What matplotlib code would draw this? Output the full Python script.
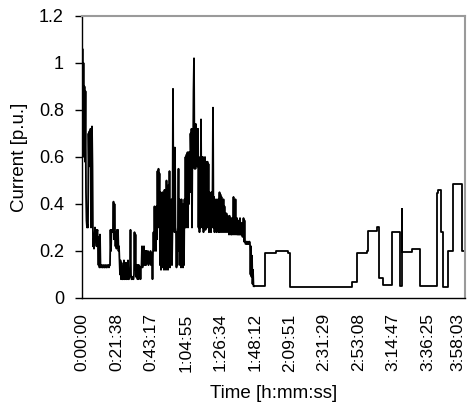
import matplotlib
matplotlib.use("Agg")
import matplotlib.pyplot as plt
import matplotlib.transforms as mtransforms
import numpy as np

plt.rcParams['font.family'] = ['Liberation Sans', 'DejaVu Sans']

# dense part of the record, one sample every ~18.8 s
sample_period = 18.79
dense_current = [
    0.58, 1.06, 0.60, 1.00, 0.62, 0.90, 0.58, 0.88, 0.45, 0.33,
    0.30, 0.31, 0.30, 0.70, 0.56, 0.71, 0.57, 0.72, 0.30, 0.60,
    0.73, 0.56, 0.22, 0.25, 0.21, 0.26, 0.30, 0.27, 0.29, 0.22,
    0.28, 0.29, 0.23, 0.14, 0.26, 0.13, 0.27, 0.14, 0.13, 0.14,
    0.14, 0.13, 0.13, 0.14, 0.14, 0.13, 0.13, 0.14, 0.14, 0.13,
    0.13, 0.14, 0.14, 0.14, 0.13, 0.14, 0.14, 0.29, 0.20, 0.29,
    0.28, 0.29, 0.29, 0.41, 0.25, 0.40, 0.28, 0.22, 0.28, 0.21,
    0.29, 0.22, 0.29, 0.20, 0.22, 0.16, 0.10, 0.16, 0.08, 0.15,
    0.08, 0.08, 0.08, 0.12, 0.16, 0.08, 0.08, 0.10, 0.15, 0.08,
    0.08, 0.09, 0.16, 0.08, 0.08, 0.09, 0.12, 0.29, 0.10, 0.08,
    0.08, 0.09, 0.08, 0.08, 0.10, 0.28, 0.12, 0.27, 0.09, 0.13,
    0.14, 0.08, 0.14, 0.08, 0.14, 0.13, 0.13, 0.08, 0.13, 0.14,
    0.22, 0.13, 0.21, 0.14, 0.22, 0.15, 0.14, 0.20, 0.14, 0.20,
    0.15, 0.19, 0.20, 0.14, 0.19, 0.15, 0.15, 0.20, 0.14, 0.19,
    0.19, 0.08, 0.20, 0.28, 0.20, 0.39, 0.22, 0.38, 0.20, 0.39,
    0.25, 0.54, 0.30, 0.55, 0.35, 0.53, 0.14, 0.45, 0.12, 0.40,
    0.15, 0.45, 0.13, 0.35, 0.12, 0.46, 0.14, 0.38, 0.12, 0.50,
    0.15, 0.40, 0.12, 0.48, 0.20, 0.54, 0.13, 0.35, 0.20, 0.42,
    0.14, 0.30, 0.89, 0.30, 0.64, 0.28, 0.64, 0.30, 0.28, 0.13,
    0.28, 0.14, 0.30, 0.55, 0.20, 0.42, 0.14, 0.40, 0.13, 0.42,
    0.15, 0.38, 0.13, 0.40, 0.14, 0.42, 0.30, 0.60, 0.30, 0.61,
    0.35, 0.62, 0.30, 0.62, 0.40, 0.62, 0.45, 0.70, 0.60, 0.72,
    0.30, 0.70, 0.58, 0.88, 1.02, 0.55, 0.74, 0.55, 0.74, 0.60,
    0.72, 0.56, 0.72, 0.30, 0.60, 0.28, 0.55, 0.30, 0.76, 0.32,
    0.60, 0.30, 0.60, 0.28, 0.58, 0.32, 0.60, 0.29, 0.58, 0.30,
    0.50, 0.58, 0.30, 0.57, 0.28, 0.45, 0.30, 0.44, 0.28, 0.45,
    0.30, 0.44, 0.81, 0.30, 0.43, 0.28, 0.40, 0.30, 0.42, 0.28,
    0.38, 0.30, 0.42, 0.28, 0.36, 0.45, 0.28, 0.44, 0.30, 0.43,
    0.28, 0.40, 0.30, 0.42, 0.28, 0.39, 0.30, 0.36, 0.28, 0.36,
    0.29, 0.35, 0.28, 0.33, 0.27, 0.35, 0.28, 0.32, 0.27, 0.34,
    0.27, 0.30, 0.30, 0.43, 0.27, 0.40, 0.28, 0.42, 0.27, 0.30,
    0.34, 0.27, 0.32, 0.27, 0.33, 0.27, 0.34, 0.27, 0.31, 0.27,
    0.32, 0.26, 0.27, 0.34, 0.24, 0.33, 0.24, 0.23, 0.23, 0.24,
    0.23, 0.23, 0.24, 0.23, 0.23, 0.24, 0.23, 0.10, 0.22, 0.09,
    0.18, 0.06, 0.12, 0.05, 0.05,
]

# quieter part: level changes (time in s, current in p.u.)
step_times = [6464, 6860, 6880, 7300, 7742, 7817, 10135, 10346, 10699, 10748,
              11086, 11173, 11312, 11639, 11950, 12014, 12030, 12390, 12702, 13330,
              13391, 13491, 13578, 13766, 13954, 14269, 14393]
step_current = [0.05, 0.12, 0.19, 0.20, 0.19, 0.048, 0.07, 0.19, 0.20, 0.285,
                0.30, 0.085, 0.055, 0.28, 0.05, 0.38, 0.197, 0.21, 0.05, 0.447,
                0.46, 0.28, 0.048, 0.20, 0.485, 0.20, 0.20]

tick_labels = ['0:00:00', '0:21:38', '0:43:17', '1:04:55', '1:26:34', '1:48:12',
               '2:09:51', '2:31:29', '2:53:08', '3:14:47', '3:36:25', '3:58:03']


def to_seconds(s):
    h, m, sec = s.split(':')
    return int(h) * 3600 + int(m) * 60 + int(sec)


dense_t = np.arange(len(dense_current)) * sample_period

fig = plt.figure(figsize=(4.68, 4.09), dpi=100)
ax = fig.add_axes([0.1752, 0.2714, 0.8184, 0.6895])

ax.plot(dense_t, dense_current, color='black', linewidth=1.3)
ax.plot(step_times, step_current, color='black', linewidth=1.3, drawstyle='steps-post')

ax.set_xlim(0, 14393)
ax.set_ylim(0, 1.2)
ax.set_yticks([0, 0.2, 0.4, 0.6, 0.8, 1.0, 1.2])
ax.set_yticklabels(['0', '0.2', '0.4', '0.6', '0.8', '1', '1.2'])
ax.set_xticks([to_seconds(s) for s in tick_labels])
ax.set_xticklabels(tick_labels, rotation=90)

ax.tick_params(axis='x', length=0, pad=11, labelsize=12.5)
ax.tick_params(axis='y', direction='out', length=5, width=1, pad=8, labelsize=13)

# last label sits on the right edge, nudge it in a little
last = ax.get_xticklabels()[-1]
last.set_transform(last.get_transform() + mtransforms.ScaledTranslation(-4 / 100, 0, fig.dpi_scale_trans))

for side in ['top', 'right']:
    ax.spines[side].set_color('#9a9a9a')
    ax.spines[side].set_linewidth(1.5)
for side in ['left', 'bottom']:
    ax.spines[side].set_color('black')
    ax.spines[side].set_linewidth(1.0)

ax.set_ylabel('Current [p.u.]', fontsize=13.5, labelpad=8)
ax.set_xlabel('Time [h:mm:ss]', fontsize=13.5, labelpad=10)

fig.savefig('out.png', dpi=100)
